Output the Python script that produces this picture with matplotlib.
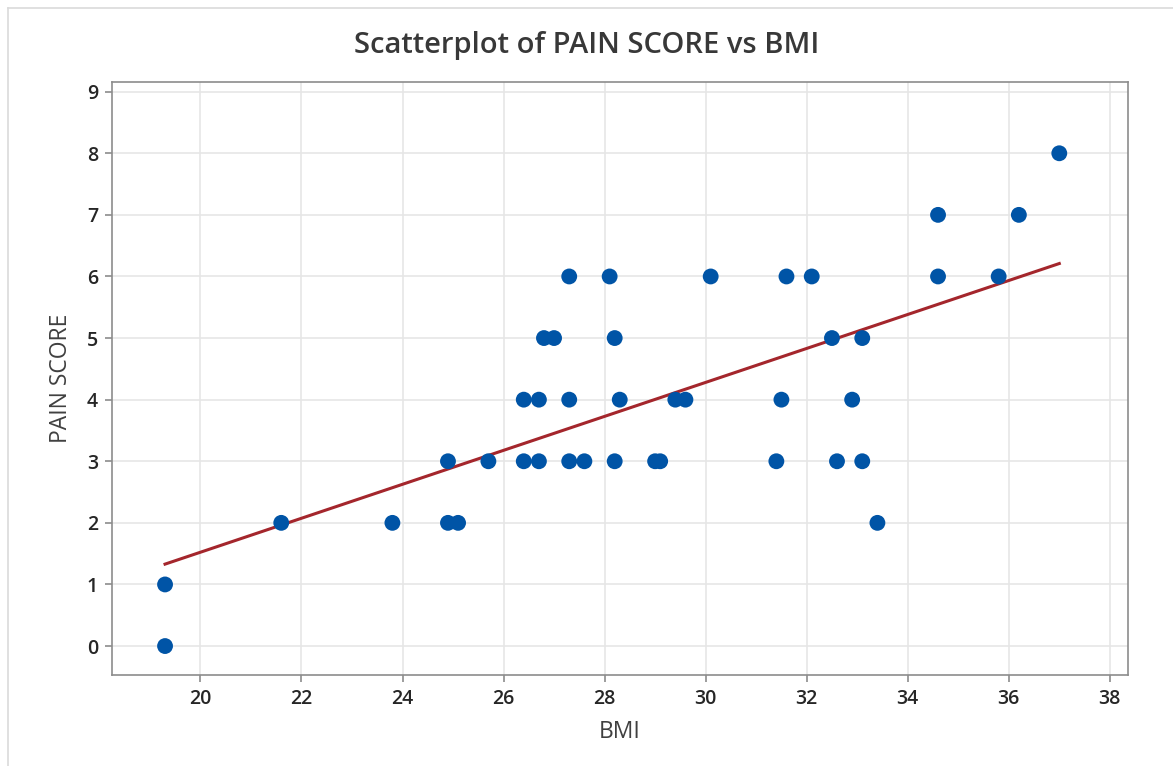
#!/usr/bin/env python3
"""
Scatterplot of PAIN SCORE vs BMI with fitted regression line.
"""

import matplotlib
matplotlib.use("Agg")
import matplotlib.pyplot as plt
from matplotlib.lines import Line2D

# Data
bmi = [19.3, 19.3, 21.6, 23.8, 24.9, 24.9, 25.1, 25.7,
       26.4, 26.4, 26.7, 26.7, 26.8, 27.0, 27.3, 27.3, 27.3, 27.6,
       28.1, 28.2, 28.2, 28.3, 29.0, 29.1, 29.4, 29.6, 30.1,
       31.4, 31.5, 31.6, 32.1, 32.5, 32.6, 32.9, 33.1, 33.1, 33.4,
       34.6, 34.6, 35.8, 36.2, 37.0]
pain = [1, 0, 2, 2, 3, 2, 2, 3,
        4, 3, 4, 3, 5, 5, 6, 4, 3, 3,
        6, 5, 3, 4, 3, 3, 4, 4, 6,
        3, 4, 6, 6, 5, 3, 4, 5, 3, 2,
        7, 6, 6, 7, 8]

# Fitted line end points as shown on the chart
fit_bmi = [19.3, 37.0]
fit_pain = [1.33, 6.21]

x_ticks = [20, 22, 24, 26, 28, 30, 32, 34, 36, 38]
y_ticks = list(range(0, 10))

plt.rcParams['font.family'] = ['Open Sans', 'DejaVu Sans']

fig = plt.figure(figsize=(11.73, 7.66), dpi=100)
ax = fig.add_axes([112 / 1173, 1 - 675 / 766, (1128 - 112) / 1173, (675 - 82) / 766])

# Fitted line
ax.plot(fit_bmi, fit_pain, color='#A4262C', linewidth=2.2, zorder=2)

# Points
ax.scatter(bmi, pain, s=130, color='#0054A6', edgecolors='none', zorder=3)

ax.set_xlim(18.25, 38.36)
ax.set_ylim(-0.47, 9.157)
ax.set_xticks(x_ticks)
ax.set_yticks(y_ticks)
ax.grid(True, color='#E6E6E6', linewidth=1.2, zorder=0)
ax.set_axisbelow(True)

for side in ['top', 'right', 'bottom', 'left']:
    ax.spines[side].set_color('#8C8C8C')
    ax.spines[side].set_linewidth(1.2)

ax.tick_params(axis='both', colors='#8C8C8C', labelcolor='#262626',
               labelsize=14, length=5, width=1.2, pad=5)
for lab in ax.get_xticklabels() + ax.get_yticklabels():
    lab.set_fontweight('semibold')

ax.set_xlabel('BMI', fontsize=16.5, color='#404040', labelpad=8, fontweight='medium')
ax.set_ylabel('PAIN SCORE', fontsize=16.5, color='#404040', labelpad=10, fontweight='medium')
fig.text(0.5, 1 - 46 / 766, 'Scatterplot of PAIN SCORE vs BMI', ha='center', va='center',
         fontsize=21, color='#383838', fontweight='semibold')

# Light frame of the screenshot
fig.add_artist(Line2D([8 / 1173, 1], [1 - 8 / 766, 1 - 8 / 766], color='#DADADA', linewidth=1.2))
fig.add_artist(Line2D([8 / 1173, 8 / 1173], [0, 1 - 8 / 766], color='#DADADA', linewidth=1.2))

fig.savefig('out.png', dpi=100)
